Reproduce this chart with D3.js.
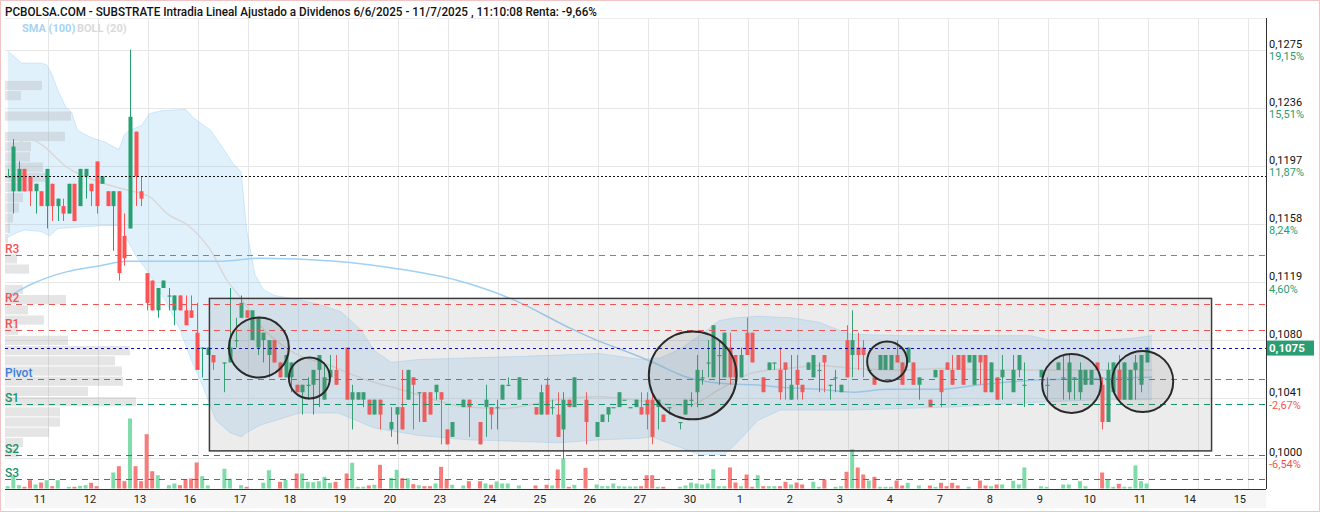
<!DOCTYPE html>
<html><head><meta charset="utf-8">
<script src="https://cdn.jsdelivr.net/npm/d3@7"></script>
<style>html,body{margin:0;padding:0;background:#fff;}svg{display:block;font-family:Roboto,"Liberation Sans",Arial,sans-serif;}</style>
</head><body><svg id="c" width="1320" height="512"></svg>
<script>
// ---------------- DATA ----------------
const titleText = "PCBOLSA.COM - SUBSTRATE Intradia Lineal Ajustado a Dividenos 6/6/2025 - 11/7/2025 , 11:10:08 Renta: -9,66%";
const dayLabels = ["11","12","13","16","17","18","19","20","23","24","25","26","27","30","1","2","3","4","7","8","9","10","11","14","15"];
const slotsPerDay = 9;
// hourly candles, one entry per slot (null = no trades)
const open = [
.1190,.1180,.1180,.1195,.1190,.1180,.1180,.1170,.1185,.1170,
.1170,.1165,.1185,.1170,.1190,.1185,.1200,.1185,.1180,.1170,
.1180,.1150,.1155,.1220,.1180,.1125,.1120,.1100,.1115,.1110,
.1100,.1110,.1100,.1100,.1085,.1075,.1070,.1070,null,.1065,
.1065,.1080,.1095,.1100,.1080,.1075,.1080,.1070,.1080,.1065,
.1055,.1055,.1050,.1045,.1050,.1050,.1060,.1040,.1055,.1060,
null,.1075,.1040,.1040,.1040,.1040,.1030,.1040,null,.1020,
.1030,.1035,.1040,.1055,.1045,.1045,.1045,.1045,.1045,.1020,
.1015,null,.1035,.1040,null,.1025,.1035,.1035,.1035,.1040,
.1050,null,.1040,null,null,.1035,.1030,.1050,.1035,.1030,
.1020,.1040,.1035,null,.1040,null,.1015,.1025,.1030,.1035,
.1035,.1040,.1035,.1035,.1035,.1040,.1040,.1035,.1030,.1035,
null,.1025,.1030,.1040,.1045,.1055,.1065,.1055,.1070,.1055,
.1075,.1070,.1055,.1085,.1085,null,.1055,.1060,.1065,.1060,
.1065,.1040,.1060,.1050,.1060,.1055,.1060,.1070,.1050,.1055,
.1045,.1080,.1070,.1075,.1075,.1060,.1055,.1060,.1060,.1060,
.1070,.1065,.1065,.1065,.1050,null,.1040,.1055,.1060,.1065,
.1060,.1070,.1070,.1065,.1050,.1070,.1070,.1045,.1055,.1055,
null,.1045,.1060,.1050,null,null,.1055,.1050,null,.1060,
.1055,.1045,.1055,.1045,.1050,.1050,.1065,.1050,.1025,.1045,
.1060,.1040,.1040,.1060,.1050,.1065];
const high = [
.1195,.1215,.1200,.1195,.1190,.1185,.1180,.1195,.1185,.1175,
.1175,.1185,.1185,.1195,.1195,.1185,.1200,.1190,.1180,.1180,
.1180,.1165,.1275,.1220,.1190,.1125,.1120,.1115,.1120,.1115,
.1110,.1110,.1110,.1110,.1105,.1075,.1075,.1070,null,.1065,
.1115,.1095,.1110,.1100,.1100,.1095,.1085,.1080,.1080,.1065,
.1070,.1065,.1050,.1050,.1055,.1060,.1070,.1065,.1070,.1070,
null,.1075,.1050,.1045,.1045,.1040,.1040,.1040,null,.1035,
.1035,.1060,.1060,.1055,.1045,.1045,.1045,.1050,.1045,.1020,
.1025,null,.1040,.1040,null,.1025,.1050,.1035,.1040,.1050,
.1055,null,.1055,null,null,.1035,.1050,.1055,.1040,.1045,
.1045,.1040,.1055,null,.1045,null,.1025,.1030,.1035,.1035,
.1045,.1040,.1035,.1040,.1045,.1045,.1045,.1040,.1030,.1035,
null,.1025,.1040,.1045,.1070,.1060,.1080,.1090,.1080,.1085,
.1085,.1070,.1075,.1095,.1085,null,.1055,.1065,.1065,.1075,
.1065,.1070,.1070,.1050,.1065,.1070,.1065,.1070,.1050,.1060,
.1050,.1090,.1100,.1085,.1080,.1060,.1055,.1070,.1070,.1070,
.1080,.1065,.1075,.1065,.1055,null,.1040,.1060,.1060,.1065,
.1070,.1070,.1070,.1070,.1070,.1070,.1070,.1065,.1055,.1070,
null,.1070,.1070,.1065,null,null,.1060,.1055,null,.1065,
.1070,.1070,.1055,.1065,.1060,.1060,.1065,.1055,.1065,.1065,
.1070,.1065,.1060,.1070,.1070,.1075];
const low = [
.1190,.1165,.1180,.1180,.1170,.1165,.1170,.1155,.1160,.1160,
.1160,.1165,.1160,.1170,.1175,.1170,.1165,.1185,.1170,.1140,
.1120,.1130,.1155,.1170,.1170,.1100,.1100,.1095,.1115,.1100,
.1090,.1100,.1090,.1095,.1060,.1055,.1070,.1060,null,.1045,
.1065,.1075,.1095,.1095,.1080,.1070,.1065,.1055,.1065,.1055,
.1055,.1045,.1045,.1030,.1040,.1030,.1035,.1040,.1055,.1050,
null,.1040,.1020,.1040,.1035,.1030,.1030,.1020,null,.1015,
.1010,.1020,.1040,.1020,.1025,.1025,.1030,.1040,.1010,.1010,
.1015,null,.1035,.1015,null,.1010,.1015,.1020,.1020,.1040,
.1050,null,.1040,null,null,.1030,.1030,.1030,.1030,.1015,
.1000,.1035,.1035,null,.1010,null,.1015,.1025,.1025,.1035,
.1035,.1040,.1035,.1035,.1030,.1020,.1010,.1020,.1025,.1030,
null,.1020,.1030,.1035,.1035,.1050,.1055,.1055,.1050,.1055,
.1050,.1050,.1055,.1070,.1065,null,.1045,.1060,.1060,.1040,
.1040,.1040,.1040,.1040,.1060,.1055,.1045,.1045,.1040,.1045,
.1045,.1055,.1055,.1060,.1055,.1060,.1050,.1060,.1060,.1060,
.1065,.1050,.1065,.1050,.1040,null,.1035,.1055,.1035,.1060,
.1050,.1060,.1050,.1065,.1050,.1050,.1045,.1045,.1040,.1040,
null,.1045,.1055,.1035,null,null,.1055,.1040,null,.1060,
.1040,.1040,.1040,.1040,.1050,.1050,.1060,.1020,.1025,.1045,
.1040,.1040,.1040,.1040,.1045,.1065];
const close = [
.1190,.1210,.1195,.1180,.1180,.1185,.1170,.1195,.1170,.1175,
.1165,.1185,.1160,.1195,.1195,.1180,.1170,.1190,.1170,.1180,
.1125,.1135,.1230,.1190,.1175,.1105,.1100,.1115,.1120,.1110,
.1110,.1100,.1090,.1095,.1060,.1075,.1075,.1065,null,.1065,
.1075,.1080,.1105,.1095,.1100,.1095,.1085,.1080,.1065,.1055,
.1070,.1065,.1045,.1050,.1050,.1060,.1070,.1055,.1060,.1050,
null,.1040,.1045,.1045,.1045,.1030,.1040,.1030,null,.1025,
.1035,.1020,.1060,.1050,.1045,.1025,.1030,.1050,.1040,.1010,
.1025,null,.1040,.1035,null,.1010,.1040,.1030,.1035,.1050,
.1050,null,.1055,null,null,.1030,.1045,.1030,.1035,.1015,
.1040,.1035,.1055,null,.1025,null,.1025,.1030,.1035,.1035,
.1045,.1040,.1035,.1040,.1030,.1030,.1015,.1040,.1025,.1035,
null,.1025,.1040,.1040,.1060,.1055,.1065,.1090,.1070,.1085,
.1055,.1055,.1070,.1070,.1065,null,.1045,.1065,.1065,.1045,
.1060,.1050,.1050,.1045,.1065,.1070,.1060,.1065,.1050,.1055,
.1050,.1055,.1080,.1070,.1070,.1060,.1050,.1070,.1070,.1070,
.1065,.1050,.1075,.1050,.1055,null,.1035,.1060,.1045,.1060,
.1050,.1060,.1050,.1070,.1070,.1065,.1045,.1065,.1040,.1060,
null,.1060,.1070,.1050,null,null,.1060,.1050,null,.1065,
.1055,.1065,.1055,.1060,.1060,.1060,.1060,.1025,.1060,.1065,
.1040,.1065,.1060,.1065,.1070,.1075];
const volume = [
2300,12300,3300,1700,8300,4000,6000,8300,2300,8300,
0,1700,1700,2700,3300,5700,2300,0,0,16000,
22300,7300,70000,22300,7300,54300,17300,13300,0,3300,
5000,3300,9300,10000,26000,12300,3000,0,0,19700,
9700,0,3300,1700,0,0,5700,18300,0,6700,
8700,0,15000,15000,6700,6300,7300,11700,5700,6700,
0,15000,25700,1700,1700,3000,3700,23700,0,10700,
18700,10300,10300,4300,3300,2300,2300,5000,21700,8700,
3700,0,3000,7300,0,7300,5000,3700,7000,5000,
5000,0,3000,0,0,3000,0,3700,3000,19000,
30000,1700,3700,0,20700,0,4000,2300,2300,5000,
2300,2000,2000,2000,2300,13300,13300,1700,1700,0,
0,1700,3000,6000,5000,4000,5000,19300,2300,2300,
21000,6000,2300,14000,1700,13300,2300,2300,2300,2300,
6700,4000,6000,4000,0,6700,1700,9000,0,1700,
2300,16700,39300,21000,14000,8000,11700,1700,1700,1700,
8000,3000,5700,0,3000,0,3000,1700,5700,2300,
5700,3000,0,1700,0,8000,3000,2300,4000,4000,
0,7700,4000,21000,0,0,2300,1700,0,0,
4000,4000,0,7300,2300,0,0,16000,9300,1700,
4700,1700,1700,23000,7300,5000];
// Bollinger (20) bands and indicator lines: [slot, price]
const bollUpper = [[0,.1274],[1,.1271],[2.5,.1266],[6,.1266],[7,.1265],[8,.1258],[9,.1248],[10.5,.1236],[11.5,.1233],[12.5,.1221],[15,.1216],[17.5,.1213],[20,.1208],[21,.1218],[22,.1221],[24,.1224],[25.5,.1232],[27.5,.1234],[32,.1235],[33.5,.1229],[36.5,.1221],[38,.1213],[40.5,.1199],[42,.1193],[43,.1154],[44.5,.1124],[46,.1114],[48,.1110],[52.5,.1107],[56,.1104],[60,.1099],[63.5,.1087],[66,.1073],[69,.1065],[74,.1067],[83,.1068],[92,.1069],[99.5,.1070],[106.5,.1071],[114,.1067],[117.5,.1068],[121,.1074],[124.5,.1083],[128,.1093],[131,.1095],[135,.1096],[141,.1095],[146,.1092],[151.5,.1084],[160.5,.1083],[184,.1083],[187.5,.1080],[196.5,.1080],[202,.1081],[206,.1083]];
const bollLower = [[0,.1149],[1.5,.1152],[3,.1154],[6,.1153],[7.5,.1150],[9,.1155],[17.5,.1157],[19.8,.1157],[21,.1151],[23,.1137],[25,.1127],[28.6,.1105],[31,.1087],[33,.1067],[35,.1050],[37.5,.1026],[40,.1018],[42,.1015],[43,.1018],[45.5,.1023],[52.5,.1031],[59.5,.1031],[66,.1021],[74,.1016],[83,.1013],[92,.1012],[99,.1011],[106.5,.1013],[113.5,.1014],[116,.1015],[121,.1008],[124.5,.1003],[129,.1003],[131.5,.1012],[135,.1026],[139,.1033],[151.5,.1033],[169.5,.1035],[184,.1038],[196.5,.1040],[206,.1040]];
const bollMid = [[0,.1208],[2.2,.1213],[4,.1215],[5.8,.1212],[10.7,.1196],[16.6,.1186],[20.2,.1182],[25.6,.1176],[28.7,.1165],[32.8,.1156],[36.4,.1141],[39.5,.1120],[41.8,.1109],[45.4,.1090],[51.3,.1072],[58,.1063],[64.7,.1053],[70.6,.1047],[82.7,.1035],[88.6,.1034],[100.7,.1041],[106.6,.1042],[112.5,.1040],[122.3,.1036],[128.2,.1047],[134.1,.1058],[140.3,.1061],[146.2,.1063],[152.2,.1061],[161.2,.1060],[167.8,.1061],[178.1,.1060],[190,.1060],[206,.1060]];
const sma100 = [[0,.1109],[4.5,.1118],[10.7,.1126],[16.6,.1130],[21.5,.1133],[25,.1133],[32.3,.1133],[38.2,.1133],[45.4,.1135],[59,.1133],[70,.1128],[81,.1120],[91.7,.1106],[100.7,.1089],[106.6,.1079],[110.2,.1074],[116.2,.1065],[122.3,.1055],[128.2,.1051],[134.1,.1050],[140.3,.1048],[146.2,.1047],[152.2,.1045],[158.3,.1047],[167.8,.1047],[175,.1050],[184,.1053],[193,.1054],[206,.1055]];
// pivot levels
const pivotNames = ["R3","R2","R1","Pivot","S1","S2","S3"];
const pivotValues = [.1137,.1104,.1087,.1054,.1037,.1003,.0987];
const lastPrice = .1075, refClose = .1190;
// price axis
const priceTicks = [.1275,.1236,.1197,.1158,.1119,.1080,.1041,.1001];
const priceLabels = ["0,1275","0,1236","0,1197","0,1158","0,1119","0,1080","0,1041","0,1000"];
const pctLabels = ["19,15%","15,51%","11,87%","8,24%","4,60%","","-2,67%","-6,54%"];
// volume profile (bottom bin upward)
const profileLow = .1001, profileStep = .000685;
const profileVol = [13,18,44,55,55,131,83,118,117,110,125,63,13,39,23,61,18,0,24,12,0,3,5,8,14,18,23,43,38,25,26,60,0,66,0,16,37];
// annotations
const rangeBox = {slots:[36.3,216.7], prices:[.1108,.10056]};
const circleSlots = [45.2,54.3,123.3,158.3,191.5,204.3];
const circlePrices = [.1075,.10546,.10563,.10657,.10509,.10522];
const circleRadius = [5.4,3.7,7.9,3.6,5.3,5.5]; // in slots

// ---------------- CHART ----------------
const svg = d3.select("#c");
const L = 5, R = 1266, T = 18, B = 489;
const x = d3.scaleLinear().domain([-0.5, 226.5]).range([L, R]);
const y = d3.scaleLinear().domain([.0980, .1295]).range([B, 20]);
const vy = d3.scaleLinear().domain([0, 100000]).range([488.5, 388.5]);
const px = d3.scaleLinear().domain([0, 131]).range([0, 131]);
const GREEN = "#26a06e", RED = "#ff5252";

svg.append("rect").attr("width",1320).attr("height",512).attr("fill","#fff");
svg.append("rect").attr("x",L).attr("y",B).attr("width",R-L).attr("height",19).attr("fill","#f6f6f6");

// grid
const grid = svg.append("g");
priceTicks.forEach(t => grid.append("line").attr("x1",L).attr("x2",R).attr("y1",Math.round(y(t))+.5).attr("y2",Math.round(y(t))+.5).attr("stroke","#e6e6e6"));
dayLabels.forEach((d,i) => { const xx = Math.round(x(i*slotsPerDay+7.2))+.5;
  grid.append("line").attr("x1",xx).attr("x2",xx).attr("y1",T).attr("y2",B).attr("stroke","#e6e6e6"); });

// bollinger band
const pt = d => [x(d[0]), y(d[1])];
const poly = bollUpper.map(pt).concat(bollLower.slice().reverse().map(pt));
svg.append("path").attr("d", d3.line()(poly)+"Z").attr("fill","rgba(135,200,245,0.25)");
svg.append("path").attr("d", d3.line()(bollUpper.map(pt))).attr("fill","none").attr("stroke","rgba(135,200,245,0.35)");
svg.append("path").attr("d", d3.line()(bollLower.map(pt))).attr("fill","none").attr("stroke","rgba(135,200,245,0.35)");

// volume profile
svg.append("g").selectAll("rect").data(profileVol).join("rect")
  .attr("x", L).attr("width", d => px(d))
  .attr("y", (d,i) => y(profileLow + (i+1)*profileStep)+0.5)
  .attr("height", (d,i) => y(profileLow + i*profileStep) - y(profileLow + (i+1)*profileStep) - 1)
  .attr("fill","rgba(170,170,170,0.3)");

// indicator lines
const ln = d3.line().curve(d3.curveMonotoneX);
svg.append("path").attr("d", ln(bollMid.map(pt))).attr("fill","none").attr("stroke","#d8d8d8").attr("stroke-width",1.5);
svg.append("path").attr("d", ln(sma100.map(pt))).attr("fill","none").attr("stroke","#9fd0f5").attr("stroke-width",1.5);

// volume bars
const idx = d3.range(open.length);
const bw = 4;
svg.append("g").selectAll("rect").data(idx.filter(i => volume[i] > 0)).join("rect")
  .attr("x", i => x(i)-bw/2).attr("width", bw)
  .attr("y", i => vy(volume[i])).attr("height", i => vy(0)-vy(volume[i]))
  .attr("fill", i => (open[i]===null || close[i] >= open[i]) ? "#7fdcaa" : "#f77c7c");

// candles
const cg = svg.append("g");
const valid = idx.filter(i => open[i] !== null);
cg.selectAll("line").data(valid).join("line")
  .attr("x1", i => Math.round(x(i))+.5).attr("x2", i => Math.round(x(i))+.5)
  .attr("y1", i => y(high[i])).attr("y2", i => y(low[i]))
  .attr("stroke", i => close[i] >= open[i] ? GREEN : RED);
cg.selectAll("rect").data(valid).join("rect")
  .attr("x", i => Math.round(x(i))+.5-bw/2).attr("width", bw)
  .attr("y", i => y(Math.max(open[i],close[i])))
  .attr("height", i => Math.max(1.2, Math.abs(y(open[i])-y(close[i]))))
  .attr("fill", i => close[i] >= open[i] ? GREEN : RED);

// range box overlay
svg.append("rect").attr("x", x(rangeBox.slots[0])).attr("y", y(rangeBox.prices[0]))
  .attr("width", x(rangeBox.slots[1])-x(rangeBox.slots[0])).attr("height", y(rangeBox.prices[1])-y(rangeBox.prices[0]))
  .attr("fill","rgba(150,150,150,0.18)").attr("stroke","#3c3c3c").attr("stroke-width",1.5);

// pivot lines
const pColors = ["#f05555","#f05555","#f05555","#3d7fdc","#17936a","#17936a","#17936a"];
pivotValues.forEach((v,i) => {
  svg.append("line").attr("x1",L).attr("x2",R).attr("y1",Math.round(y(v))+.5).attr("y2",Math.round(y(v))+.5)
    .attr("stroke",pColors[i]).attr("stroke-dasharray","6,5");
  svg.append("text").attr("x",L).attr("y",y(v)-2).text(pivotNames[i])
    .attr("fill",pColors[i]).attr("font-size",12).attr("font-weight",500);
});
svg.append("line").attr("x1",L).attr("x2",R).attr("y1",Math.round(y(lastPrice))+.5).attr("y2",Math.round(y(lastPrice))+.5)
  .attr("stroke","#0a0ac8").attr("stroke-dasharray","3,3");
svg.append("line").attr("x1",L).attr("x2",R).attr("y1",Math.round(y(refClose))+.5).attr("y2",Math.round(y(refClose))+.5)
  .attr("stroke","#111").attr("stroke-dasharray","2,2");

// circles
circleSlots.forEach((s,i) => {
  svg.append("circle").attr("cx", x(s)).attr("cy", y(circlePrices[i])).attr("r", x(circleRadius[i])-x(0))
    .attr("fill","rgba(110,110,110,0.12)").attr("stroke","#2a2a2a").attr("stroke-width",2);
});

// right axis
const ya = d3.axisRight(y).tickValues(priceTicks).tickSize(0).tickPadding(3).tickFormat((d,i)=>priceLabels[i]);
const yg = svg.append("g").attr("transform",`translate(${R},0)`).call(ya);
yg.select(".domain").remove();
yg.selectAll("text").attr("dy",null).attr("y",-2.5).attr("font-size",11).attr("fill","#111").attr("font-family","Roboto, sans-serif");
priceTicks.forEach((t,i) => {
  if (!pctLabels[i]) return;
  svg.append("text").attr("x",R+3).attr("y",y(t)+10.5).text(pctLabels[i]).attr("font-size",11)
    .attr("fill", pctLabels[i].startsWith("-") ? "#f05555" : "#2a9d72");
});
svg.append("line").attr("x1",R+.5).attr("x2",R+.5).attr("y1",T).attr("y2",B).attr("stroke","#333");
svg.append("rect").attr("x",R+1).attr("y",y(lastPrice)-7).attr("width",47).attr("height",15).attr("fill","#2a9d72");
svg.append("text").attr("x",R+3).attr("y",y(lastPrice)+4.5).text("0,1075").attr("fill","#fff").attr("font-size",11.5).attr("font-weight",700);

// bottom axis
const xa = d3.axisBottom(x).tickValues(dayLabels.map((d,i)=>i*slotsPerDay+5.7)).tickSize(0).tickPadding(6).tickFormat((d,i)=>dayLabels[i]);
const xg = svg.append("g").attr("transform",`translate(0,${B})`).call(xa);
xg.select(".domain").remove();
xg.selectAll("text").attr("font-size",11).attr("fill","#222").attr("font-family","Roboto, sans-serif");
svg.append("line").attr("x1",L).attr("x2",R).attr("y1",B+.5).attr("y2",B+.5).attr("stroke","#333");

// title & legend
svg.append("text").attr("x",5).attr("y",16).text(titleText).attr("font-size",12.5).attr("font-weight",500)
  .attr("fill","#111").attr("textLength",592).attr("lengthAdjust","spacingAndGlyphs");
svg.append("text").attr("x",22).attr("y",32).text("SMA (100)").attr("font-size",11).attr("font-weight",700).attr("fill","#a6d3f5");
svg.append("text").attr("x",77).attr("y",32).text("BOLL (20)").attr("font-size",11).attr("font-weight",700).attr("fill","#d9d9d9");
svg.append("line").attr("x1",L).attr("x2",R).attr("y1",T+.5).attr("y2",T+.5).attr("stroke","#ececec");
svg.append("rect").attr("x",.5).attr("y",.5).attr("width",1319).attr("height",511).attr("fill","none").attr("stroke","#f0c4c4");
</script></body></html>
